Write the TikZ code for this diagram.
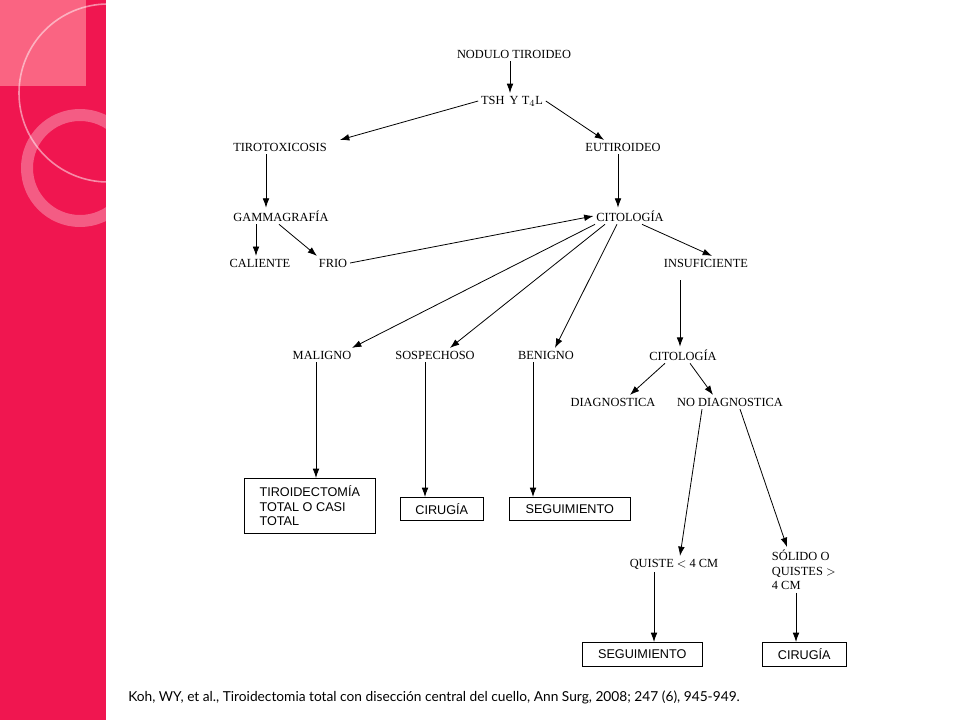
\documentclass[tikz,border=0pt]{standalone}
\usepackage{fontspec}
\setmainfont{Liberation Serif}
\newfontfamily\boxfont{Liberation Sans}
\newfontfamily\capfont{Lato}
\usetikzlibrary{arrows.meta, positioning}
\definecolor{barred}{RGB}{240,22,80}
\definecolor{barpink}{RGB}{250,100,130}
\tikzset{
  lab/.style={font=\fontsize{9.3}{11}\selectfont, inner sep=2pt},
  box/.style={draw, font=\boxfont\fontsize{9.5}{11}\selectfont, inner sep=3pt, align=left},
  arr/.style={-{Latex[length=7pt,width=5pt]}, line width=0.6pt}
}
\begin{document}
\begin{tikzpicture}[x=0.75pt,y=-0.75pt]
	\useasboundingbox (0,0) rectangle (960,720);
	% side bar
	\fill[barred] (0,0) rectangle (106,720);
	\begin{scope}
	\clip (0,0) rectangle (106,720);
	\fill[barpink] (0,0) rectangle (86,86);
	\draw[white, opacity=0.5, line width=1.2pt] (108,93) circle (89);
	\draw[white, opacity=0.3, line width=9pt] (80,168) circle (53);
	\end{scope}
	
	\node[lab] (nod) at (514,54) {NODULO TIROIDEO};
	\node[lab] (tsh) at (512,101) {TSH\, Y T$_4$L};
	\node[lab] (tox) at (280,147) {TIROTOXICOSIS};
	\node[lab] (eut) at (623,147) {EUTIROIDEO};
	\node[lab] (gam) at (281,216) {GAMMAGRAFÍA};
	\node[lab] (cit) at (630,216) {CITOLOGÍA};
	\node[lab] (cal) at (260,263) {CALIENTE};
	\node[lab] (fri) at (333,263) {FRIO};
	\node[lab] (ins) at (706,263) {INSUFICIENTE};
	\node[lab] (mal) at (322,355) {MALIGNO};
	\node[lab] (sos) at (435,355) {SOSPECHOSO};
	\node[lab] (ben) at (546,355) {BENIGNO};
	\node[lab] (cit2) at (683,355) {CITOLOGÍA};
	\node[lab] (dia) at (613,402) {DIAGNOSTICA};
	\node[lab] (nodi) at (730,402) {NO DIAGNOSTICA};
	\node[lab] (qui) at (674,564) {QUISTE $<$ 4 CM};
	\node[lab, align=left, anchor=north west] (sol) at (769,547) {SÓLIDO O\\QUISTES $>$\\4 CM};
	
	\node[box, anchor=north west, minimum width=131*0.75pt, minimum height=55*0.75pt, inner xsep=2pt] (tir) at (244,478) {TIROIDECTOMÍA\\TOTAL O CASI\\TOTAL};
	\node[box, anchor=north west, minimum width=83*0.75pt, minimum height=23*0.75pt] (cir) at (400,497) {CIRUGÍA};
	\node[box, anchor=north west, minimum width=121*0.75pt, minimum height=23*0.75pt] (seg) at (509,497) {SEGUIMIENTO};
	\node[box, anchor=north west, minimum width=120*0.75pt, minimum height=24*0.75pt] (seg2) at (582,642) {SEGUIMIENTO};
	\node[box, anchor=north west, minimum width=84*0.75pt, minimum height=24*0.75pt] (cir2) at (762,642) {CIRUGÍA};
	
	\node[font=\capfont\fontsize{10.3}{12}\selectfont, anchor=west, inner sep=0pt] (ref) at (128,697) {Koh, WY, et al., Tiroidectomia total con disección central del cuello, Ann Surg, 2008; 247 (6), 945-949.};
	
	\draw[arr] (nod.south) ++(-4,0) -- ([xshift=-2*0.75pt]tsh.north);
	\draw[arr] (tsh.west) -- ([xshift=60*0.75pt]tox.north);
	\draw[arr] (tsh.east) -- ([xshift=-19*0.75pt]eut.north);
	\draw[arr] ([xshift=-14*0.75pt]tox.south) -- ([xshift=-15*0.75pt]gam.north);
	\draw[arr] ([xshift=-5*0.75pt]eut.south) -- ([xshift=-12*0.75pt]cit.north);
	\draw[arr] ([xshift=-25*0.75pt]gam.south) -- ([xshift=-4*0.75pt]cal.north);
	\draw[arr] ([xshift=-2*0.75pt]gam.south) -- ([xshift=-16*0.75pt]fri.north);
	\draw[arr] (fri.east) -- (cit.west);
	\draw[arr] ([xshift=12*0.75pt]cit.south) -- ([xshift=6*0.75pt]ins.north);
	\draw[arr] ([xshift=-35*0.75pt]cit.south) -- ([xshift=30*0.75pt]mal.north);
	\draw[arr] ([xshift=-25*0.75pt]cit.south) -- ([xshift=15*0.75pt]sos.north);
	\draw[arr] ([xshift=-13*0.75pt]cit.south) -- ([xshift=9*0.75pt]ben.north);
	\draw[arr] ([xshift=-26*0.75pt]ins.south) ++(0,10) -- ([xshift=-3*0.75pt]cit2.north);
	\draw[arr] ([xshift=-18*0.75pt]cit2.south) -- ([xshift=17*0.75pt]dia.north);
	\draw[arr] ([xshift=7*0.75pt]cit2.south) -- ([xshift=-17*0.75pt]nodi.north);
	\draw[arr] ([xshift=-6*0.75pt]mal.south) -- ([xshift=-6*0.75pt]mal.south |- tir.north);
	\draw[arr] ([xshift=-10*0.75pt]sos.south) -- ([xshift=-10*0.75pt]sos.south |- cir.north);
	\draw[arr] ([xshift=-13*0.75pt]ben.south) -- ([xshift=-13*0.75pt]ben.south |- seg.north);
	\draw[arr] ([xshift=-28*0.75pt]nodi.south) -- ([xshift=6*0.75pt]qui.north);
	\draw[arr] ([xshift=10*0.75pt]nodi.south) -- ([xshift=18*0.75pt]sol.north west);
	\draw[arr] ([xshift=-20*0.75pt]qui.south) -- ([xshift=-20*0.75pt]qui.south |- seg2.north);
	\draw[arr] ([xshift=27*0.75pt]sol.south west) -- ([xshift=27*0.75pt]sol.south west |- cir2.north);
\end{tikzpicture}
\end{document}
